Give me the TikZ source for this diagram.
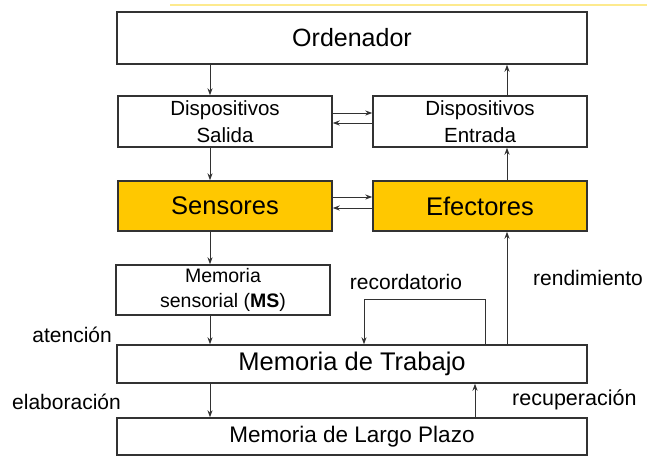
\documentclass[tikz,border=0pt]{standalone}
\usepackage{fontspec}
\setmainfont{Liberation Sans}
\usetikzlibrary{arrows.meta}
\definecolor{gold}{RGB}{255,200,0}
\definecolor{lin}{RGB}{50,50,50}
\tikzset{
  box/.style={draw=lin, line width=1.4pt, fill=white, inner sep=0pt, align=center, text=black},
  goldbox/.style={box, fill=gold},
  arr/.style={draw=lin, line width=1pt, -{Stealth[length=7pt,width=5pt]}},
  ln/.style={draw=lin, line width=1pt},
  lbl/.style={inner sep=0pt, text=black, font=\fontsize{21}{25}\selectfont},
}
\begin{document}
\begin{tikzpicture}[x=1pt,y=-1pt]
\useasboundingbox (0,0) rectangle (647,456);
\fill[white] (0,0) rectangle (647,456);
\draw[yellow!70!orange, opacity=0.45, line width=2pt] (170,5) -- (647,5);

\node[box, minimum width=470, minimum height=52, font=\fontsize{25}{30}\selectfont] (ord) at (352,38) {Ordenador};
\node[box, minimum width=214, minimum height=51, font=\fontsize{20.5}{27}\selectfont] (sal) at (225,121.5) {Dispositivos\\Salida};
\node[box, minimum width=214, minimum height=51, font=\fontsize{20.5}{27}\selectfont] (ent) at (480,121.5) {Dispositivos\\Entrada};
\node[goldbox, minimum width=214, minimum height=50, font=\fontsize{25.5}{30}\selectfont] (sen) at (225,206) {Sensores};
\node[goldbox, minimum width=214, minimum height=50, font=\fontsize{25.5}{30}\selectfont] (efe) at (480,206) {Efectores};
\node[box, minimum width=214, minimum height=50, font=\fontsize{19.5}{25}\selectfont] (ms) at (223,290) {Memoria\\sensorial (\textbf{MS})};
\node[box, minimum width=470, minimum height=38, font=\fontsize{25.5}{30}\selectfont] (mt) at (352,364) {Memoria de Trabajo};
\node[box, minimum width=470, minimum height=37, font=\fontsize{22.5}{27}\selectfont] (lp) at (352,436.5) {Memoria de Largo Plazo};

\coordinate (xl) at (210,0);
\coordinate (xr) at (507,0);
\coordinate (xrec) at (475,0);
\coordinate (loopL) at (364,299);
\coordinate (loopR) at (485,299);

\draw[arr] (ord.south -| xl) -- (sal.north -| xl);
\draw[arr] (ent.north -| xr) -- (ord.south -| xr);
\draw[arr] (sal.south -| xl) -- (sen.north -| xl);
\draw[arr] (efe.north -| xr) -- (ent.south -| xr);
\draw[arr] (sen.south -| xl) -- (ms.north -| xl);
\draw[arr] (ms.south -| xl) -- (mt.north -| xl);
\draw[arr] (mt.south -| xl) -- (lp.north -| xl);
\draw[arr] (mt.north -| xr) -- (efe.south -| xr);
\draw[arr] (lp.north -| xrec) -- (mt.south -| xrec);

\draw[arr] (sal.east |- 0,113) -- (ent.west |- 0,113);
\draw[arr] (ent.west |- 0,123) -- (sal.east |- 0,123);
\draw[arr] (sen.east |- 0,197) -- (efe.west |- 0,197);
\draw[arr] (efe.west |- 0,208) -- (sen.east |- 0,208);

\draw[arr] (mt.north -| loopR) -- (loopR) -- (loopL) -- (mt.north -| loopL);

\node[lbl, anchor=east] (aten) at (112,335) {atención};
\node[lbl, anchor=east] (elab) at (121,402) {elaboración};
\node[lbl] (reco) at (406,282) {recordatorio};
\node[lbl, anchor=west] (rend) at (533,278) {rendimiento};
\node[lbl, anchor=west, font=\fontsize{21.5}{25}\selectfont] (recu) at (512,400) {recuperación};
\end{tikzpicture}
\end{document}
